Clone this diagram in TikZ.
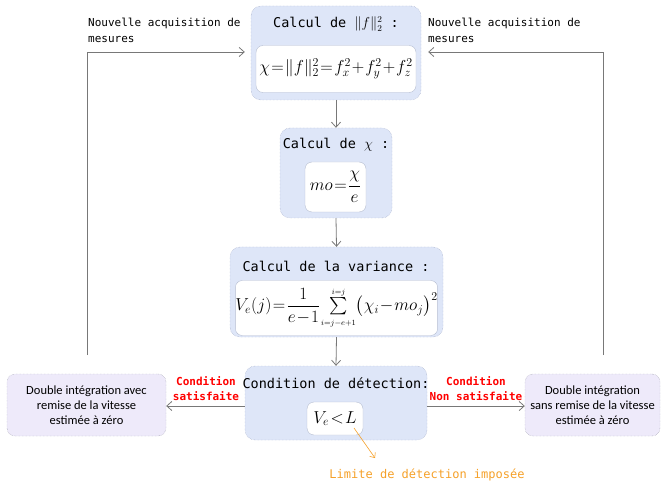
\documentclass[tikz,border=0pt]{standalone}
\usepackage{fontspec}
\usepackage{amsmath}
\setmonofont{DejaVu Sans Mono}
\newfontfamily\sidefont{Carlito}
\usetikzlibrary{arrows.meta}
\definecolor{mainfill}{RGB}{222,230,248}
\definecolor{mainborder}{RGB}{150,160,190}
\definecolor{sidefill}{RGB}{238,234,250}
\definecolor{sideborder}{RGB}{150,150,165}
\definecolor{linegray}{RGB}{120,120,120}
\definecolor{orangelab}{RGB}{245,160,40}
\newcommand{\tightmath}{\medmuskip=1mu\thickmuskip=1.5mu\thinmuskip=1mu}
\tikzset{
  mainbox/.style={draw=mainborder, densely dotted, fill=mainfill, rounded corners=10pt, inner sep=0pt},
  innerbox/.style={draw=mainborder!70, fill=white, rounded corners=7pt, inner sep=0pt, font=\fontsize{17}{20}\selectfont\tightmath},
  sidebox/.style={draw=sideborder, densely dotted, fill=sidefill, rounded corners=8pt, inner sep=0pt, align=center, font=\sidefont\fontsize{12.5}{15}\selectfont},
  titletxt/.style={font=\ttfamily\fontsize{13.5}{15}\selectfont, inner sep=0pt},
  labtxt/.style={font=\ttfamily\fontsize{11}{16}\selectfont, align=left, inner sep=0pt},
  condtxt/.style={font=\ttfamily\bfseries\fontsize{11}{15}\selectfont, text=red, align=center, inner sep=0pt},
  conn/.style={draw=linegray, line width=0.8pt, -{Straight Barb[length=5pt,width=9pt]}},
}
\begin{document}
\begin{tikzpicture}[x=1pt,y=-1pt]
\useasboundingbox (0,0) rectangle (661,486);
% main boxes
\node[mainbox, minimum width=170, minimum height=94] (b1) at (336,53) {};
\node[innerbox, minimum width=160, minimum height=47] (i1) at (336,69) {$\chi=\lVert f\rVert_2^2=f_x^2+f_y^2+f_z^2$};
\node[titletxt] (t1) at (336,24) {Calcul de $\lVert f\rVert_2^2$ :};

\node[mainbox, minimum width=112, minimum height=90] (b2) at (336,173) {};
\node[innerbox, minimum width=61, minimum height=50] (i2) at (335.5,187) {$mo=\dfrac{\chi}{e}$};
\node[titletxt] (t2) at (336,145) {Calcul de $\chi$ :};

\node[mainbox, minimum width=213, minimum height=90] (b3) at (336.5,292) {};
\node[innerbox, minimum width=201, minimum height=55] (i3) at (336.5,308) {$V_e(j)=\dfrac{1}{e-1}\sum\limits_{\scriptscriptstyle i=j-e+1}^{\scriptscriptstyle i=j}\bigl(\chi_i-mo_j\bigr)^2$};
\node[titletxt] (t3) at (336,266) {Calcul de la variance :};

\node[mainbox, minimum width=182, minimum height=74] (b4) at (336,403) {};
\node[innerbox, minimum width=56, minimum height=33] (i4) at (335,418.5) {$V_e<L$};
\node[titletxt] (t4) at (336,383) {Condition de détection:};

% side boxes
\node[sidebox, minimum width=159, minimum height=62] (l) at (86.5,405) {Double intégration avec\\remise de la vitesse\\estimée à zéro};
\node[sidebox, minimum width=135, minimum height=62] (r) at (592.5,405) {Double intégration\\sans remise de la vitesse\\estimée à zéro};

% vertical flow
\draw[conn] (b1.south) -- (b2.north);
\draw[conn] (b2.south) -- (b3.north);
\draw[conn] (b3.south) -- (b4.north);

% condition arrows
\draw[conn] (b4.west |- 0,406) -- (l.east |- 0,406);
\draw[conn] (b4.east |- 0,406) -- (r.west |- 0,406);
\node[condtxt] (cs) at (206,389) {Condition\\satisfaite};
\node[condtxt] (cn) at (476,389) {Condition\\Non satisfaite};

% loops
\coordinate (lb) at (87,355);
\coordinate (lt) at (87,52);
\coordinate (rb) at (603,355);
\coordinate (rt) at (603,52);
\draw[conn, shorten >=6pt] (lb) -- (lt) -- (b1.west |- lt);
\draw[conn, shorten >=7pt] (rb) -- (rt) -- (b1.east |- rt);
\node[labtxt, anchor=north west] (nl) at (88,18) {Nouvelle acquisition de\\mesures};
\node[labtxt, anchor=north west] (nr) at (428,18) {Nouvelle acquisition de\\mesures};

% orange annotation
\coordinate (ls) at (354,428);
\node[font=\ttfamily\fontsize{12}{14}\selectfont, text=orangelab, inner sep=0pt] (lim) at (427,475) {Limite de détection imposée};
\draw[draw=orangelab, line width=0.6pt, -{Straight Barb[length=4pt,width=7pt]}] (ls) -- (375,458);
\end{tikzpicture}
\end{document}
